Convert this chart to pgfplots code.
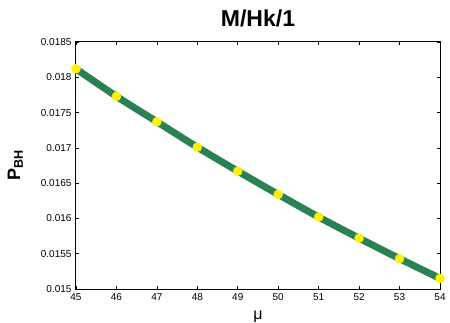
\documentclass[border=0pt]{standalone}
\usepackage{fontspec}
\setmainfont{Liberation Sans}
\usepackage{pgfplots}
\pgfplotsset{compat=1.18}
\definecolor{lgreen}{RGB}{42,130,84}
\begin{document}
\begin{tikzpicture}
\begin{axis}[
  scale only axis,
  width=364bp, height=247bp,
  xmin=45, xmax=54, ymin=0.015, ymax=0.0185,
  xtick={45,...,54},
  ytick={0.015,0.0155,0.016,0.0165,0.017,0.0175,0.018,0.0185},
  yticklabels={0.015,0.0155,0.016,0.0165,0.017,0.0175,0.018,0.0185},
  scaled y ticks=false,
  /pgf/number format/assume math mode=true,
  tick align=inside,
  major tick length=3bp,
  tick style={line width=0.6bp, black},
  axis line style={line width=1bp},
  ticklabel style={font=\fontsize{10bp}{12bp}\selectfont},
  yticklabel style={xshift=-1bp},
  xticklabel style={yshift=-1bp},
  clip=false,
  title={\textbf{M/Hk/1}},
  title style={font=\fontsize{23bp}{26bp}\selectfont, at={(axis description cs:0.5,1)}, anchor=base, yshift=10bp},
  xlabel={μ},
  xlabel style={font=\fontsize{16bp}{18bp}\selectfont, at={(axis description cs:0.5,0)}, anchor=base, yshift=-30bp},
  ylabel={\textbf{P\textsubscript{BH}}},
  ylabel style={font=\fontsize{18bp}{20bp}\selectfont, at={(axis description cs:-0.1538,0.5)}, anchor=base},
]
\addplot[lgreen, line width=7bp, smooth] coordinates {
(45,0.01812) (46,0.01773) (47,0.01737) (48,0.01701) (49,0.01667)
(50,0.01634) (51,0.01602) (52,0.01572) (53,0.01543) (54,0.01515)
};
\addplot[only marks, mark=*, mark size=4.5bp, mark options={fill=yellow, draw=yellow}] coordinates {
(45,0.01812) (46,0.01773) (47,0.01737) (48,0.01701) (49,0.01667)
(50,0.01634) (51,0.01602) (52,0.01572) (53,0.01543) (54,0.01515)
};
\end{axis}
\pgfresetboundingbox
\path[use as bounding box] (-76bp,-34bp) rectangle (374bp,289bp);
\end{tikzpicture}
\end{document}
